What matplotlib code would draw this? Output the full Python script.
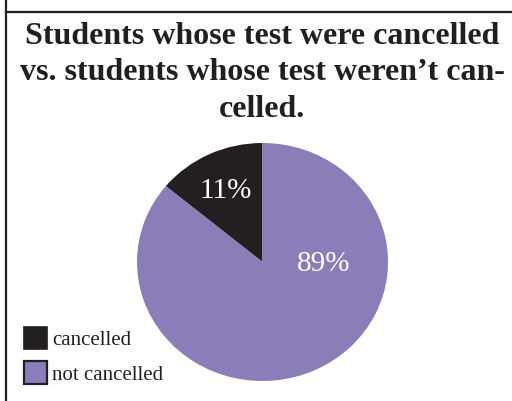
import matplotlib
matplotlib.use("Agg")
import matplotlib.pyplot as plt
from matplotlib.patches import Patch
from matplotlib.lines import Line2D

plt.rcParams["font.family"] = ["Liberation Serif", "DejaVu Serif"]

# data
categories = ["cancelled", "not cancelled"]
shares = [14, 86]            # drawn wedge sizes
pct_labels = ["11%", "89%"]  # printed labels
colors = ["#231f20", "#8a7db8"]

W, H = 512, 401
fig = plt.figure(figsize=(W / 100, H / 100), dpi=100, facecolor="white")

# border: left rule + top rule
fig.add_artist(Line2D([5.5 / W, 5.5 / W], [0, 1], color="#231f20", lw=1.6))
fig.add_artist(Line2D([5.5 / W, 1], [1 - 12 / H, 1 - 12 / H], color="#231f20", lw=1.6))

fig.text(262 / W, 1 - 73 / H,
         "Students whose test were cancelled\nvs. students whose test weren\u2019t can-\ncelled.",
         ha="center", va="center", fontsize=23, fontweight="bold",
         color="#231f20", linespacing=1.32)

# pie axes: x 137..388, y 143..381
ax = fig.add_axes([137 / W, 1 - 381 / H, 251 / W, 238 / H])
wedges, texts = ax.pie(shares, colors=colors, startangle=90, counterclock=True,
                       labels=pct_labels, labeldistance=0.6,
                       textprops=dict(color="white", fontsize=21))
ax.set_aspect("auto")
ax.set_xlim(-1, 1)
ax.set_ylim(-1, 1)
ax.axis("off")
texts[0].set_position((-0.29, 0.6))
texts[1].set_position((0.49, -0.02))
for t in texts:
    t.set_ha("center")
    t.set_va("center")

handles = [Patch(facecolor=colors[0], edgecolor="#231f20", lw=1.2),
           Patch(facecolor=colors[1], edgecolor="#231f20", lw=1.6)]
fig.legend(handles, categories, loc="lower left",
           bbox_to_anchor=(16 / W, 8 / H), frameon=False, fontsize=15,
           handlelength=1.1, handleheight=1.3, handletextpad=0.25,
           labelspacing=0.55, borderaxespad=0, labelcolor="#231f20")

fig.savefig("out.png", dpi=100, facecolor="white")
